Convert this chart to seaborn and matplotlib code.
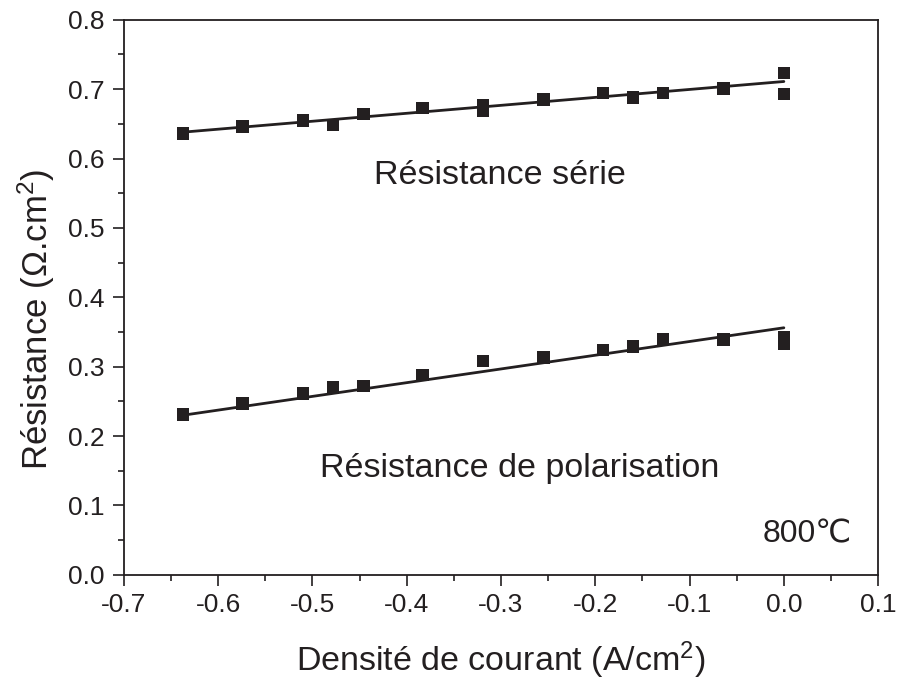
import numpy as np
import pandas as pd
import seaborn as sns
import matplotlib
matplotlib.use("Agg")
import matplotlib.pyplot as plt
from matplotlib.ticker import MultipleLocator, FormatStrFormatter

# Current density (A/cm2) and measured resistances (Ohm.cm2) at 800 C
current_density = [-0.637, -0.574, -0.510, -0.478, -0.446, -0.383,
                   -0.319, -0.319, -0.255, -0.192, -0.160, -0.128,
                   -0.064, 0.0, 0.0]
r_serie = [0.636, 0.646, 0.655, 0.648, 0.664, 0.673,
           0.677, 0.669, 0.685, 0.694, 0.688, 0.694,
           0.701, 0.723, 0.693]
r_polarisation = [0.231, 0.247, 0.261, 0.270, 0.272, 0.288,
                  0.308, 0.308, 0.313, 0.324, 0.329, 0.340,
                  0.339, 0.342, 0.333]

# Linear fits over the measured range (end points of each line)
fit_j = [-0.637, 0.0]
fit_serie = [0.638, 0.711]
fit_polarisation = [0.230, 0.356]

points = pd.DataFrame({
    "j": current_density * 2,
    "R": r_serie + r_polarisation,
    "type": ["serie"] * len(r_serie) + ["polarisation"] * len(r_polarisation),
})
fits = pd.DataFrame({
    "j": fit_j * 2,
    "R": fit_serie + fit_polarisation,
    "type": ["serie"] * 2 + ["polarisation"] * 2,
})

INK = "#231f20"
palette = {"serie": INK, "polarisation": INK}

sns.set_theme(style="white")
plt.rcParams["font.family"] = ["Liberation Sans", "DejaVu Sans"]
plt.rcParams["mathtext.default"] = "regular"

fig = plt.figure(figsize=(8.97, 6.81), dpi=100)
ax = fig.add_axes([0.138, 0.156, 0.841, 0.815])

sns.lineplot(data=fits, x="j", y="R", hue="type", palette=palette,
             lw=2.0, legend=False, ax=ax, zorder=2)
sns.scatterplot(data=points, x="j", y="R", hue="type", palette=palette,
                marker="s", s=80, edgecolor="none", linewidth=0,
                legend=False, ax=ax, zorder=3)

ax.set_xlim(-0.7, 0.1)
ax.set_ylim(0.0, 0.8)
ax.xaxis.set_major_locator(MultipleLocator(0.1))
ax.xaxis.set_minor_locator(MultipleLocator(0.05))
ax.yaxis.set_major_locator(MultipleLocator(0.1))
ax.yaxis.set_minor_locator(MultipleLocator(0.05))
ax.xaxis.set_major_formatter(FormatStrFormatter("%.1f"))
ax.yaxis.set_major_formatter(FormatStrFormatter("%.1f"))

ax.tick_params(which="major", direction="out", length=8, width=1.2,
               colors=INK, labelsize=19, bottom=True, left=True)
ax.tick_params(which="minor", direction="out", length=4.5, width=1.2,
               colors=INK, bottom=True, left=True)
ax.tick_params(axis="x", pad=5)
ax.tick_params(axis="y", pad=6)
for sp in ax.spines.values():
    sp.set_color(INK)
    sp.set_linewidth(1.3)

ax.set_xlabel("Densité de courant (A/cm$^2$)", fontsize=24.5, color=INK, labelpad=16)
ax.set_ylabel("Résistance (Ω.cm$^2$)", fontsize=25, color=INK, labelpad=8)
ax.yaxis.label.set_y(0.46)

ax.text(-0.301, 0.563, "Résistance série", fontsize=24.5, color=INK,
        ha="center", va="baseline")
ax.text(-0.280, 0.1416, "Résistance de polarisation", fontsize=24.5, color=INK,
        ha="center", va="baseline")
ax.text(0.025, 0.046, "800℃", fontsize=23, color=INK,
        ha="center", va="baseline")

fig.savefig("out.png", dpi=100)
